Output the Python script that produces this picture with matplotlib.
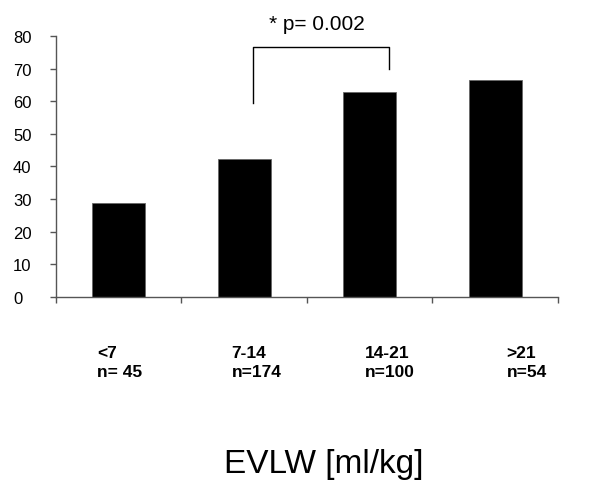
import matplotlib
matplotlib.use("Agg")
import matplotlib.pyplot as plt

plt.rcParams["font.family"] = ["Liberation Sans", "DejaVu Sans"]

# data
groups = ["<7", "7-14", "14-21", ">21"]
counts = ["n= 45", "n=174", "n=100", "n=54"]
values = [28.9, 42.4, 62.9, 66.6]
y_ticks = [0, 10, 20, 30, 40, 50, 60, 70, 80]
p_text = "* p= 0.002"

fig = plt.figure(figsize=(6, 4.81), dpi=100)
ax = fig.add_axes([0.0933, 0.3805, 0.8367, 0.5426])

x = list(range(len(groups)))
ax.bar(x, values, width=0.42, color="black", edgecolor="#666666", linewidth=0.6)

ax.set_xlim(-0.5, 3.5)
ax.set_ylim(0, 80)
ax.set_yticks(y_ticks)
ax.set_xticks([-0.5, 0.5, 1.5, 2.5, 3.5])
ax.set_xticklabels([])

for s in ["top", "right"]:
    ax.spines[s].set_visible(False)
for s in ["left", "bottom"]:
    ax.spines[s].set_color("#555555")
    ax.spines[s].set_linewidth(1.0)

ax.tick_params(axis="y", direction="out", length=4, width=1, color="#555555",
               labelsize=12, pad=27)
ax.tick_params(axis="x", direction="out", length=4, width=1, color="#555555")
for lab in ax.get_yticklabels():
    lab.set_horizontalalignment("left")

# category labels under the axis
label_x = [-0.17, 0.90, 1.96, 3.09]
for lx, g, c in zip(label_x, groups, counts):
    ax.text(lx, -20.0, g + "\n" + c, ha="left", va="center", fontsize=12.5,
            fontweight="bold", linespacing=1.35, clip_on=False)

# significance bracket between 7-14 and 14-21
ax.plot([1.07, 1.07, 2.15, 2.15], [59.5, 76.7, 76.7, 69.9], color="black",
        linewidth=1.0, clip_on=False)
ax.text(1.58, 82.1, p_text, ha="center", va="baseline", fontsize=15, clip_on=False)

fig.text(0.54, 0.017, "EVLW [ml/kg]", ha="center", va="baseline", fontsize=24)

fig.savefig("out.png", dpi=100)
